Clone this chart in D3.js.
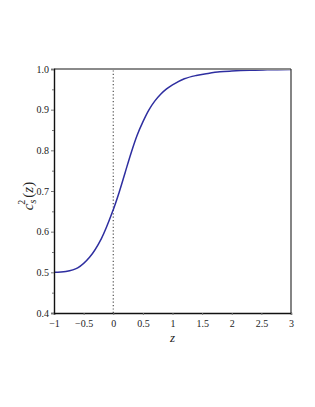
<!DOCTYPE html>
<html><head><meta charset="utf-8">
<script src="https://cdn.jsdelivr.net/npm/d3@7"></script>
<style>body{margin:0;background:#fff}svg{display:block}text{font-family:"Liberation Serif","Times New Roman",serif}</style>
</head><body><svg id="c" width="315" height="407"></svg>
<script>
const zValues = [-1,-0.8,-0.6,-0.4,-0.2,0,0.1,0.2,0.3,0.4,0.5,0.6,0.7,0.8,0.9,1.0,1.2,1.4,1.6,1.8,2.0,2.3,2.6,3.0];
const cs2Values = [0.500,0.502,0.511,0.537,0.583,0.654,0.697,0.745,0.793,0.836,0.870,0.899,0.921,0.938,0.951,0.961,0.976,0.984,0.989,0.993,0.995,0.997,0.998,0.999];
const xTicks = [-1,-0.5,0,0.5,1,1.5,2,2.5,3];
const xTickLabels = ["−1","−0.5","0","0.5","1","1.5","2","2.5","3"];
const yTicks = [0.4,0.5,0.6,0.7,0.8,0.9,1.0];
const yMinorTicks = [0.45,0.55,0.65,0.75,0.85,0.95];

const svg = d3.select("#c");
const L=54, R=291, T=69, B=313;
const x = d3.scaleLinear().domain([-1,3]).range([L,R]);
const y = d3.scaleLinear().domain([0.4,1.0]).range([B,T]);

// dotted vertical at z=0
svg.append("line").attr("x1",x(0)).attr("x2",x(0)).attr("y1",B).attr("y2",T)
  .attr("stroke","#444").attr("stroke-width",1.1).attr("stroke-dasharray","1.2,2.2");

// curve
const data = zValues.map((z,i)=>({z, c: cs2Values[i]}));
svg.append("path").datum(data)
  .attr("d", d3.line().x(d=>x(d.z)).y(d=>y(d.c)).curve(d3.curveCatmullRom.alpha(0.5)))
  .attr("fill","none").attr("stroke","#2e2ea0").attr("stroke-width",1.5);

// frame
svg.append("line").attr("x1",L).attr("x2",R).attr("y1",T).attr("y2",T).attr("stroke","#8a8a8a").attr("stroke-width",1.8);
svg.append("line").attr("x1",R).attr("x2",R).attr("y1",T).attr("y2",B).attr("stroke","#333").attr("stroke-width",1.2);

// axes
const xAxis = d3.axisBottom(x).tickValues(xTicks).tickFormat((d,i)=>xTickLabels[i]).tickSize(2).tickPadding(5);
const gx = svg.append("g").attr("transform",`translate(0,${B})`).call(xAxis);
const yAxis = d3.axisLeft(y).tickValues(yTicks).tickFormat(d3.format(".1f")).tickSize(3).tickPadding(2);
const gy = svg.append("g").attr("transform",`translate(${L},0)`).call(yAxis);
const gym = svg.append("g").attr("transform",`translate(${L},0)`).call(d3.axisLeft(y).tickValues(yMinorTicks).tickSize(2).tickFormat(""));
gym.select(".domain").remove();
[gx,gy,gym].forEach(g=>{
  g.selectAll(".domain").attr("stroke","#111").attr("stroke-width",1.4);
  g.selectAll(".tick line").attr("stroke","#777");
  g.selectAll("text").attr("font-size","10px").attr("fill","#222").attr("font-family","'Liberation Serif',serif");
});

// axis labels
svg.append("text").attr("x",x(1)).attr("y",342).attr("text-anchor","middle")
  .attr("font-size","13px").attr("font-style","italic").attr("fill","#222").text("z");

const yl = svg.append("text").attr("transform",`translate(33,196) rotate(-90)`)
  .attr("font-size","15px").attr("fill","#222").attr("text-anchor","middle");
yl.append("tspan").attr("font-style","italic").text("c");
yl.append("tspan").attr("font-style","italic").attr("font-size","10px").attr("dy",3).text("s");
yl.append("tspan").attr("font-size","10px").attr("dx",-5).attr("dy",-11).text("2");
yl.append("tspan").attr("dy",8).attr("dx",2).text("(");
yl.append("tspan").attr("font-style","italic").text("z");
yl.append("tspan").text(")");
</script></body></html>
